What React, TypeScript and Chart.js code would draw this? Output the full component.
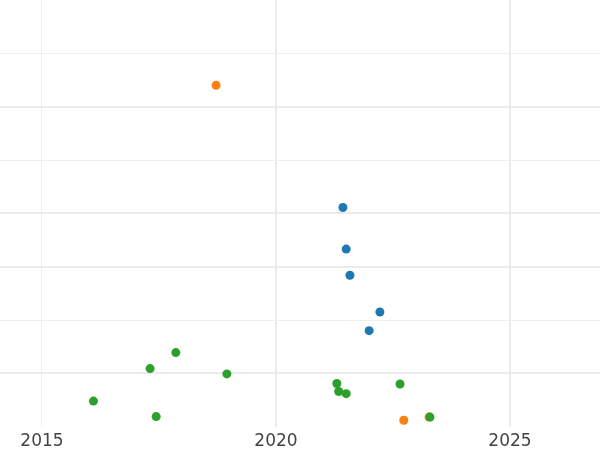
import React, { useEffect, useRef } from "react";
import { Chart, registerables } from "chart.js";

Chart.register(...registerables);

// x = year, y = value (arbitrary units, axis labels hidden in reference)
const blueX = [2021.43, 2021.5, 2021.58, 2022.22, 2021.99];
const blueY = [4.11, 3.33, 2.84, 2.15, 1.8];

const orangeX = [2018.72, 2022.73, 2023.27];
const orangeY = [6.4, 0.12, 0.18];

const greenX = [2016.1, 2017.31, 2017.86, 2018.95, 2017.44, 2021.3, 2021.34, 2021.5, 2022.65, 2023.29];
const greenY = [0.48, 1.09, 1.39, 0.99, 0.19, 0.81, 0.66, 0.62, 0.8, 0.18];

const xTickLabels = [2015, 2020, 2025];
const xMajorTicks = [2020, 2025];
const yMajorTicks = [1, 3, 4, 6];
const yMinorTicks = [2, 5, 7];

const toPoints = (xs: number[], ys: number[]) => xs.map((x, i) => ({ x, y: ys[i] }));

export default function App() {
  const ref = useRef<HTMLCanvasElement | null>(null);

  useEffect(() => {
    if (!ref.current) return;
    const pt = { pointRadius: 4.5, pointHoverRadius: 4.5, borderWidth: 0, showLine: false };
    const chart = new Chart(ref.current, {
      type: "scatter",
      data: {
        datasets: [
          { label: "green", data: toPoints(greenX, greenY), backgroundColor: "#2ca02c", borderColor: "#2ca02c", ...pt },
          { label: "orange", data: toPoints(orangeX, orangeY), backgroundColor: "#ff7f0e", borderColor: "#ff7f0e", ...pt },
          { label: "blue", data: toPoints(blueX, blueY), backgroundColor: "#1f77b4", borderColor: "#1f77b4", ...pt },
        ],
      },
      options: {
        responsive: false,
        animation: false,
        layout: { padding: 0, autoPadding: false },
        plugins: { legend: { display: false }, tooltip: { enabled: false } },
        scales: {
          x: {
            type: "linear",
            min: 2014.103,
            max: 2026.923,
            afterBuildTicks: (s: any) => {
              s.ticks = xTickLabels.map((v) => ({ value: v }));
            },
            afterFit: (s: any) => {
              s.height = 23.3;
            },
            border: { display: false },
            grid: {
              drawTicks: false,
              color: (c: any) => (xMajorTicks.includes(c.tick?.value) ? "#ebebeb" : "#efefef"),
              lineWidth: (c: any) => (xMajorTicks.includes(c.tick?.value) ? 2 : 1),
            },
            ticks: {
              padding: 5,
              color: "#444444",
              font: { family: "DejaVu Sans", size: 17 },
              callback: (v: any) => String(v),
            },
          },
          y: {
            type: "linear",
            min: 0,
            max: 8,
            afterBuildTicks: (s: any) => {
              s.ticks = [...yMajorTicks, ...yMinorTicks].sort((a, b) => a - b).map((v) => ({ value: v }));
            },
            border: { display: false },
            grid: {
              drawTicks: false,
              color: (c: any) => (yMajorTicks.includes(c.tick?.value) ? "#ebebeb" : "#efefef"),
              lineWidth: (c: any) =>
                yMajorTicks.includes(c.tick?.value) ? 2 : yMinorTicks.includes(c.tick?.value) ? 1 : 0,
            },
            ticks: { display: false },
            afterFit: (s: any) => {
              s.width = 0;
            },
          },
        },
      },
    });
    return () => chart.destroy();
  }, []);

  return (
    <div style={{ position: "absolute", left: 0, top: 0, width: 600, height: 450, background: "#fff" }}>
      <canvas ref={ref} width={600} height={450} style={{ display: "block" }} />
    </div>
  );
}
